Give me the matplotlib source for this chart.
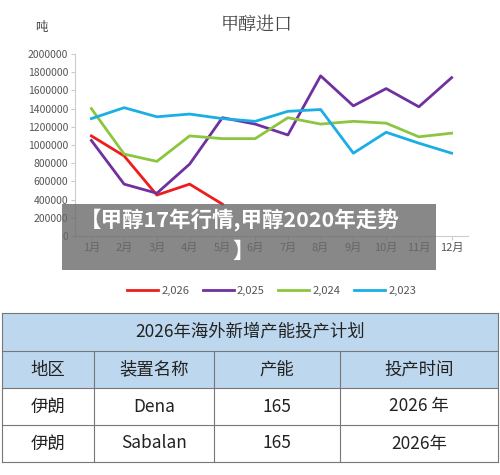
import matplotlib
matplotlib.use("Agg")
import matplotlib.pyplot as plt
from matplotlib.patches import Rectangle

plt.rcParams['font.family'] = ['Noto Sans CJK SC', 'DejaVu Sans']

months = ['1月','2月','3月','4月','5月','6月','7月','8月','9月','10月','11月','12月']
s2026 = [1100000, 880000, 450000, 570000, 350000]
s2025 = [1050000, 570000, 470000, 790000, 1300000, 1230000, 1110000, 1760000, 1430000, 1620000, 1420000, 1740000]
s2024 = [1400000, 900000, 820000, 1100000, 1070000, 1070000, 1300000, 1230000, 1260000, 1240000, 1090000, 1130000]
s2023 = [1290000, 1410000, 1310000, 1340000, 1290000, 1260000, 1370000, 1390000, 910000, 1140000, 1020000, 910000]
series_names = ['2,026', '2,025', '2,024', '2,023']
yticks = [0, 200000, 400000, 600000, 800000, 1000000, 1200000, 1400000, 1600000, 1800000, 2000000]
table_title = '2026年海外新增产能投产计划'
table_header = ['地区', '装置名称', '产能', '投产时间']
table_rows = [['伊朗', 'Dena', '165', '2026 年'], ['伊朗', 'Sabalan', '165', '2026年']]

W, H = 500, 475
fig = plt.figure(figsize=(5, 4.75), dpi=100)
fig.patch.set_facecolor('white')

ax = fig.add_axes([75/W, 1-236/H, (468-75)/W, (236-54)/H])
x = list(range(1, 13))
colors = ['#ee1c1c', '#7030a0', '#8cc63f', '#1aaee5']
for vals, c, n in zip([s2026, s2025, s2024, s2023], colors, series_names):
    ax.plot(x[:len(vals)], vals, color=c, lw=2, label=n)
ax.set_xlim(0.5, 12.5)
ax.set_ylim(0, 2000000)
ax.set_yticks(yticks)
ax.set_yticklabels([str(v) for v in yticks], fontsize=7.5, color='#555555')
ax.set_xticks(x)
ax.set_xticklabels(months, fontsize=8, color='#555555')
for s in ['top', 'right']:
    ax.spines[s].set_visible(False)
for s in ['left', 'bottom']:
    ax.spines[s].set_color('#cccccc')
ax.tick_params(length=3, color='#cccccc', pad=2)
ax.legend(loc='center', bbox_to_anchor=(0.5, (291-236)/-182), ncol=4, frameon=False,
          fontsize=8, handlelength=2.8, columnspacing=1.2, handletextpad=0.3, labelcolor='#555555')

fig.text(257/W, 1-25/H, '甲醇进口', ha='center', va='center', fontsize=13, color='#444444',
         family=['Noto Serif CJK SC', 'Noto Sans CJK SC'])
fig.text(41/W, 1-28/H, '吨', ha='center', va='center', fontsize=9, color='#444444')

# banner overlay
fig.patches.append(Rectangle((62/W, 1-270/H), (436-62)/W, 66/H, transform=fig.transFigure,
                             facecolor='#6a6a6a', alpha=0.8, zorder=5))
fig.text(80/W, 1-221/H, '【甲醇17年行情,甲醇2020年走势', ha='left', va='center', fontsize=15.5,
         color='white', fontweight='bold', zorder=6)
fig.text(243/W, 1-251/H, '】', ha='center', va='center', fontsize=15.5, color='white',
         fontweight='bold', zorder=6)

# table
tax = fig.add_axes([0, 0, 1, 1], facecolor='none')
tax.set_xlim(0, W); tax.set_ylim(H, 0); tax.axis('off')
cols = [2, 94, 214, 340, 498]
rows_y = [313, 351, 388, 425, 462]
tax.add_patch(Rectangle((cols[0], rows_y[0]), cols[-1]-cols[0], rows_y[2]-rows_y[0], facecolor='#bdd7ee', edgecolor='none'))
for yy in rows_y:
    tax.plot([cols[0], cols[-1]], [yy, yy], color='#777777', lw=0.8)
for i, xx in enumerate(cols):
    tax.plot([xx, xx], [rows_y[1] if 0 < i < len(cols)-1 else rows_y[0], rows_y[-1]], color='#777777', lw=0.8)
tax.text(250, (rows_y[0]+rows_y[1])/2, table_title, ha='center', va='center', fontsize=12.5, color='#222222')
for r, row in enumerate([table_header] + table_rows):
    yc = (rows_y[r+1]+rows_y[r+2])/2
    for c, t in enumerate(row):
        tax.text((cols[c]+cols[c+1])/2, yc, t, ha='center', va='center', fontsize=12.5, color='#222222')

fig.savefig('out.png', dpi=100)
